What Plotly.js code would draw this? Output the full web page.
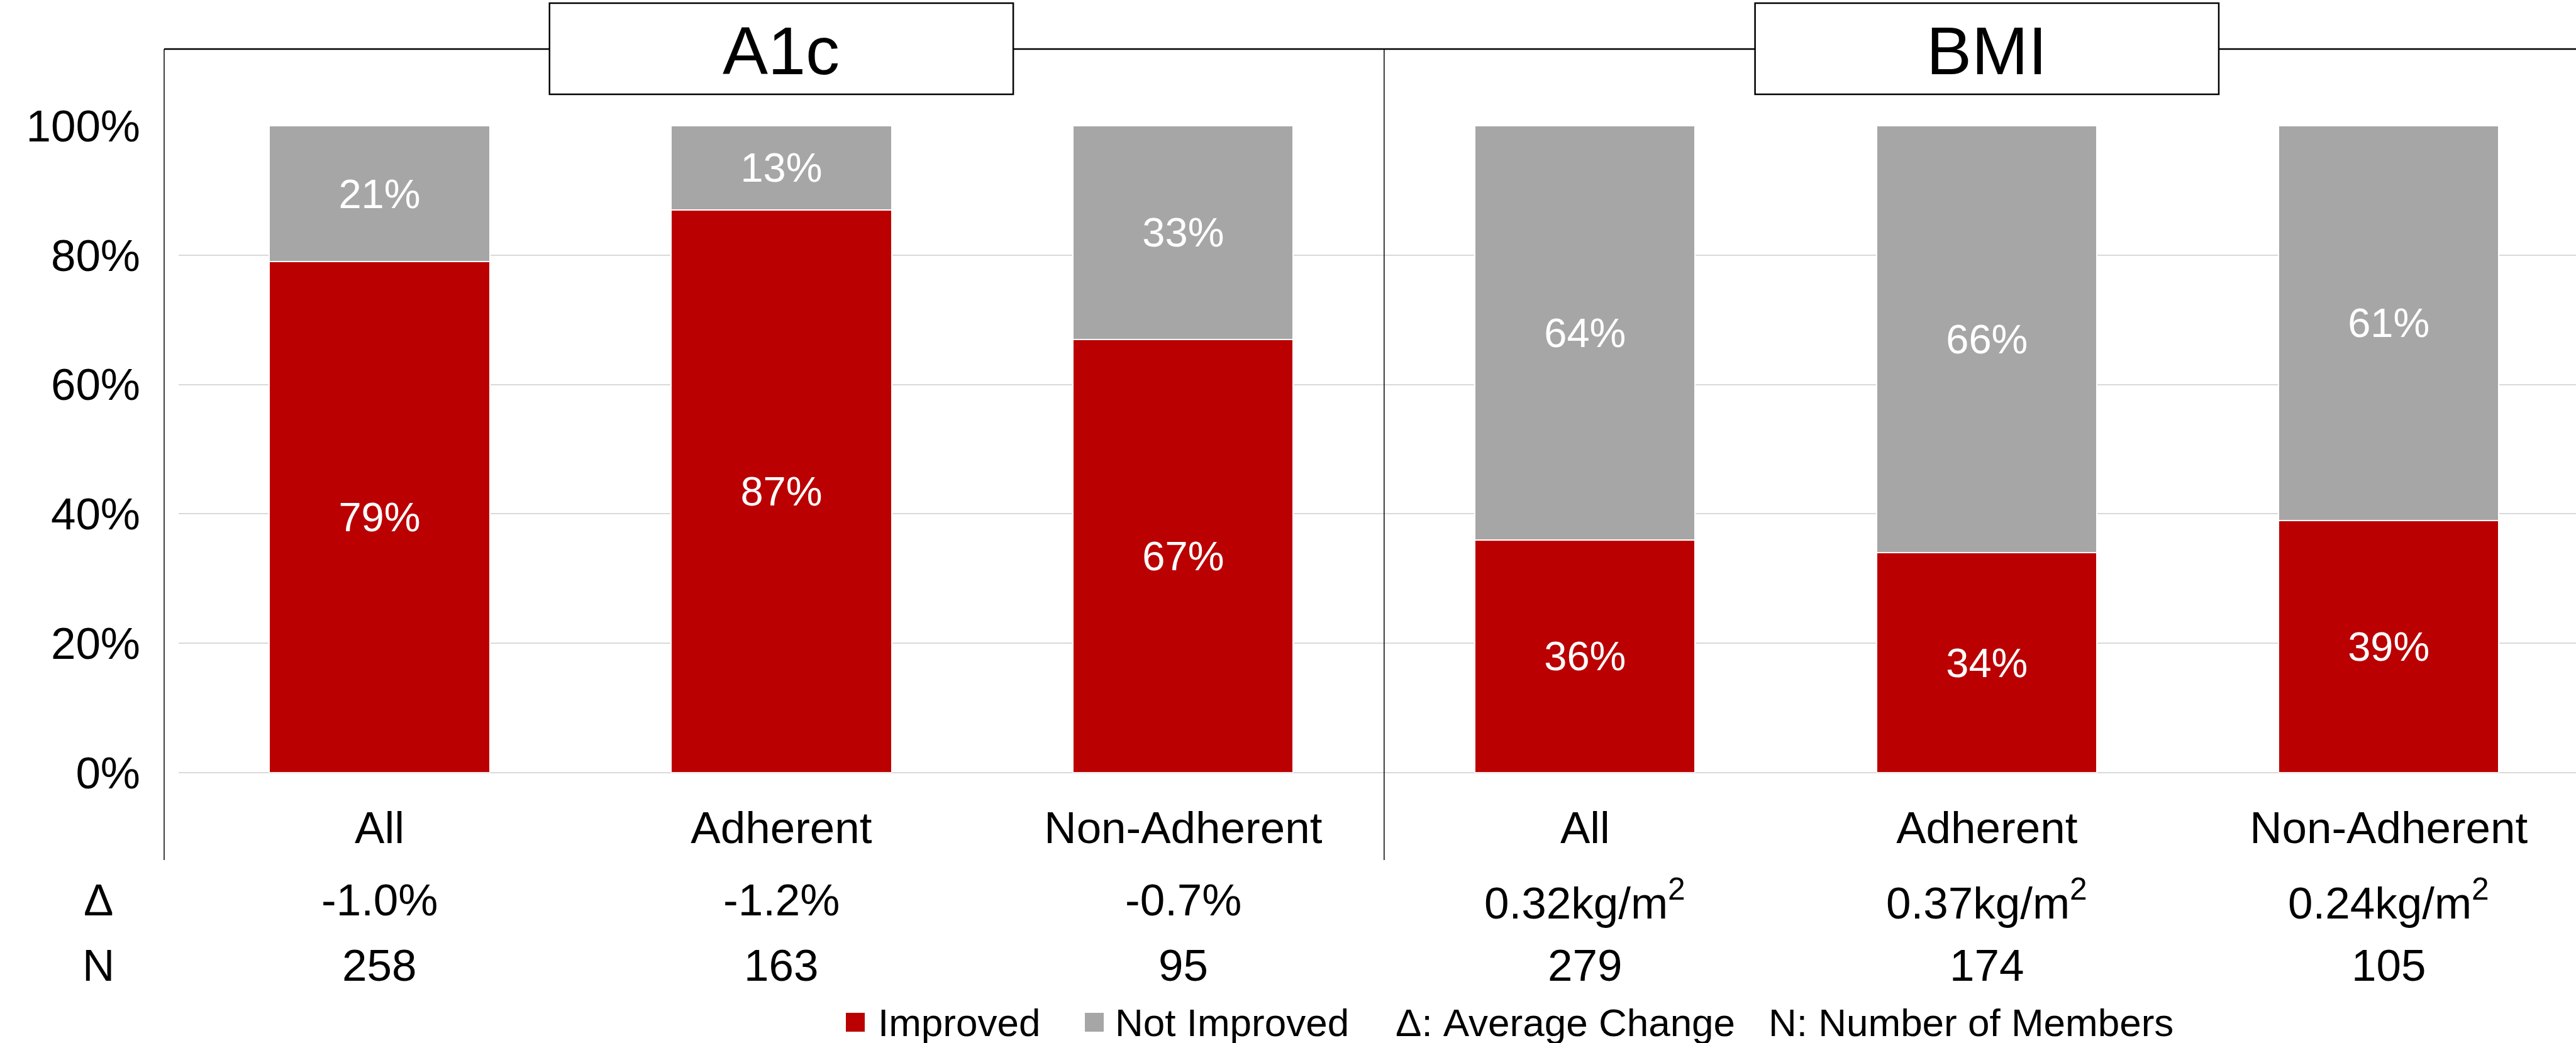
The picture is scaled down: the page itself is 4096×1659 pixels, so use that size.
<!DOCTYPE html>
<html>
<head>
<meta charset="utf-8">
<script src="https://cdn.plot.ly/plotly-3.0.1.min.js"></script>
<style>
  html, body { margin: 0; padding: 0; background: #ffffff; }
  #chart { width: 4096px; height: 1659px; }
</style>
</head>
<body>
<div id="chart"></div>
<script>
// Panels and groups
const panels = ['A1c', 'BMI'];
const groups = ['All', 'Adherent', 'Non-Adherent'];

// Share of members (percent) per group
const improvedA1c = [79, 87, 67];
const notImprovedA1c = [21, 13, 33];
const improvedBMI = [36, 34, 39];
const notImprovedBMI = [64, 66, 61];

// Average change and number of members per group
const changeA1c = ['-1.0%', '-1.2%', '-0.7%'];
const changeBMI = ['0.32kg/m<sup>2</sup>', '0.37kg/m<sup>2</sup>', '0.24kg/m<sup>2</sup>'];
const membersA1c = [258, 163, 95];
const membersBMI = [279, 174, 105];

// Row headers, legend texts and y ticks
const rowHeaders = ['Δ', 'N'];
const seriesNames = ['Improved', 'Not Improved'];
const keyNotes = ['Δ: Average Change', 'N: Number of Members'];
const yTicks = [0, 20, 40, 60, 80, 100];
const yTickLabels = ['0%', '20%', '40%', '60%', '80%', '100%'];

// Styling
const RED = '#BA0000';
const GREY = '#A6A6A6';
const FONT = 'Liberation Sans, Arial, sans-serif';

// Page geometry
const W = 4096, H = 1659;
const M = { l: 284, r: 0, t: 200, b: 430 };
const plotW = W - M.l - M.r, plotH = H - M.t - M.b;
const px = x => (x - M.l) / plotW;          // page pixel -> paper x
const py = y => (H - M.b - y) / plotH;      // page pixel -> paper y

// One numeric slot per bar, panel after panel
const labels = groups.concat(groups);
const xs = labels.map((_, i) => i);
const improved = improvedA1c.concat(improvedBMI);
const notImproved = notImprovedA1c.concat(notImprovedBMI);
const changes = changeA1c.concat(changeBMI);
const members = membersA1c.concat(membersBMI);

const barText = { family: FONT, size: 65, color: '#ffffff' };
const pct = v => v + '%';

const traces = [
  {
    type: 'bar', name: seriesNames[0], x: xs, y: improved,
    marker: { color: RED, line: { color: '#ffffff', width: 2 } },
    text: improved.map(pct), textposition: 'inside', insidetextanchor: 'middle',
    textfont: barText, hoverinfo: 'skip', showlegend: false
  },
  {
    type: 'bar', name: seriesNames[1], x: xs, y: notImproved,
    marker: { color: GREY, line: { color: '#ffffff', width: 2 } },
    text: notImproved.map(pct), textposition: 'inside', insidetextanchor: 'middle',
    textfont: barText, hoverinfo: 'skip', showlegend: false
  }
];

const annotations = [];
const shapes = [];

// Frame: top rule, left rule and the panel divider
shapes.push({ type: 'line', xref: 'paper', yref: 'paper', x0: px(261), x1: px(W), y0: py(78), y1: py(78),
  line: { color: '#000000', width: 2.5 } });
shapes.push({ type: 'line', xref: 'paper', yref: 'paper', x0: px(261), x1: px(261), y0: py(78), y1: py(1368),
  line: { color: '#000000', width: 1.5 } });
shapes.push({ type: 'line', xref: 'x', yref: 'paper', x0: groups.length - 0.5, x1: groups.length - 0.5,
  y0: py(78), y1: py(1368), line: { color: '#000000', width: 1.5 } });

// Panel title boxes centred over the middle group of each panel
panels.forEach((name, p) => {
  const c = p * groups.length + 1;
  shapes.push({ type: 'rect', xref: 'x', yref: 'paper', x0: c - 0.577, x1: c + 0.577,
    y0: py(150), y1: py(5), fillcolor: '#ffffff', line: { color: '#000000', width: 2.5 } });
  annotations.push({ xref: 'x', yref: 'paper', x: c, y: py(80), text: name, showarrow: false,
    xanchor: 'center', yanchor: 'middle', font: { family: FONT, size: 108, color: '#000000' } });
});

// Δ and N rows under the category labels
const rowY = [1431, 1535];
rowHeaders.forEach((h, r) => {
  annotations.push({ xref: 'paper', yref: 'paper', x: px(156), y: py(rowY[r]), text: h, showarrow: false,
    xanchor: 'center', yanchor: 'middle', font: { family: FONT, size: 71, color: '#000000' } });
});
xs.forEach((x, i) => {
  annotations.push({ xref: 'x', yref: 'paper', x: x, y: py(rowY[0]), text: changes[i], showarrow: false,
    xanchor: 'center', yanchor: 'middle', font: { family: FONT, size: 71, color: '#000000' } });
  annotations.push({ xref: 'x', yref: 'paper', x: x, y: py(rowY[1]), text: String(members[i]), showarrow: false,
    xanchor: 'center', yanchor: 'middle', font: { family: FONT, size: 71, color: '#000000' } });
});

// Key along the bottom edge
const keyFont = { family: FONT, size: 62, color: '#000000' };
const keyY = 1626;
const swatches = [{ x: 1345, color: RED, textX: 1394 }, { x: 1725, color: GREY, textX: 1771 }];
swatches.forEach((s, k) => {
  shapes.push({ type: 'rect', xref: 'paper', yref: 'paper', x0: px(s.x), x1: px(s.x + 30),
    y0: py(keyY + 15), y1: py(keyY - 15), fillcolor: s.color, line: { width: 0 } });
  annotations.push({ xref: 'paper', yref: 'paper', x: px(s.textX), y: py(keyY), text: seriesNames[k],
    showarrow: false, xanchor: 'left', yanchor: 'middle', font: keyFont });
});
[2217, 2810].forEach((x, k) => {
  annotations.push({ xref: 'paper', yref: 'paper', x: px(x), y: py(keyY), text: keyNotes[k],
    showarrow: false, xanchor: 'left', yanchor: 'middle', font: keyFont });
});

const layout = {
  width: W, height: H,
  margin: M,
  paper_bgcolor: '#ffffff', plot_bgcolor: '#ffffff',
  barmode: 'stack', bargap: 0.452,
  showlegend: false,
  font: { family: FONT, color: '#000000' },
  xaxis: {
    range: [-0.5, 5.466],
    tickvals: xs, ticktext: labels,
    tickfont: { family: FONT, size: 71, color: '#000000' },
    ticks: '', ticklabelstandoff: 40,
    showgrid: false, zeroline: false, showline: false, fixedrange: true
  },
  yaxis: {
    range: [0, 100],
    tickvals: yTicks, ticktext: yTickLabels,
    tickfont: { family: FONT, size: 71, color: '#000000' },
    ticks: '', ticklabelstandoff: 60,
    showgrid: true, gridcolor: '#D9D9D9', gridwidth: 2,
    zeroline: true, zerolinecolor: '#D9D9D9', zerolinewidth: 2,
    showline: false, fixedrange: true
  },
  shapes: shapes,
  annotations: annotations
};

Plotly.newPlot('chart', traces, layout, { displayModeBar: false, staticPlot: true });
</script>
</body>
</html>
